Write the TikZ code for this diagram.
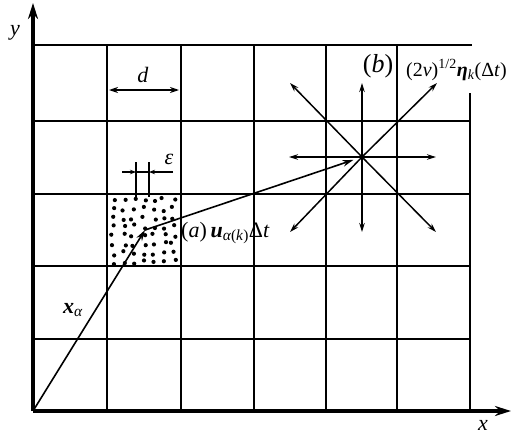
\documentclass[tikz,border=0pt]{standalone}
\usepackage{fontspec}
\setmainfont{Liberation Serif}
\usetikzlibrary{arrows.meta,calc}
\begin{document}
\begin{tikzpicture}[x=1pt,y=-1pt,
  gridline/.style={line width=2.6pt},
  axis/.style={line width=3.2pt,-{Stealth[length=16pt,width=10pt]}},
  vec/.style={line width=1.6pt,-{Stealth[length=11pt,width=6.5pt]}},
  thinarr/.style={line width=1.5pt,-{Stealth[length=9pt,width=5.5pt]}},
  tinyarr/.style={line width=1.2pt,-{Stealth[length=6pt,width=4.5pt]}},
  lab/.style={inner sep=0pt,font=\fontsize{22}{26}\selectfont},
  smalllab/.style={inner sep=0pt,font=\fontsize{20}{24}\selectfont},
  biglab/.style={inner sep=0pt,font=\fontsize{26}{30}\selectfont}]
\useasboundingbox (0,0) rectangle (511,434);
% grid
\foreach \gx in {107,181,254,326,397} \draw[gridline] (\gx,45) -- (\gx,411);
\draw[gridline] (470,93) -- (470,411);
\draw[gridline] (33,45) -- (472,45);
\foreach \gy in {121,194,266,339} \draw[gridline] (33,\gy) -- (470,\gy);
% axes
\coordinate (O) at (33,411);
\coordinate (ytip) at (33,3);
\coordinate (xtip) at (511,411);
\draw[axis] (O) -- (ytip);
\draw[axis] (O) -- (xtip);
% dots
\pgfmathsetseed{11}
\foreach \i in {0,...,6} \foreach \j in {0,...,7} {
  \pgfmathsetmacro\px{113+\i*10.1+rand*2.8}
  \pgfmathsetmacro\py{200+\j*8.9+rand*2.6}
  \fill (\px,\py) circle (2.1pt);}
% d arrow
\coordinate (d1) at (109,90);
\coordinate (d2) at (179,90);
\draw[line width=1.3pt,{Stealth[length=9pt,width=6pt]}-{Stealth[length=9pt,width=6pt]}] (d1) -- (d2);
% epsilon
\coordinate (e1t) at (136,162); \coordinate (e1b) at (136,197);
\coordinate (e2t) at (149,162); \coordinate (e2b) at (149,197);
\draw[line width=1.2pt] (e1t) -- (e1b);
\draw[line width=1.2pt] (e2t) -- (e2b);
\coordinate (el) at (122,172); \coordinate (elm) at (136,172);
\coordinate (er) at (173,172); \coordinate (erm) at (149,172);
\draw[tinyarr] (el) -- (elm);
\draw[line width=1.2pt] (elm) -- (erm);
\draw[tinyarr] (er) -- (erm);
% vectors
\coordinate (A) at (145,230);
\coordinate (B) at (362,157);
\draw[vec] (O) -- (A);
\draw[vec,shorten >=9pt] (A) -- (B);
% star
\foreach \n/\dx/\dy in {r/74/0,l/-73/0,u/0/-74,d/0/75,ur/75/-74,ul/-72/-74,dr/74/75,dl/-72/75} {
  \coordinate (s\n) at ($(B)+(\dx,\dy)$);
  \draw[thinarr] (B) -- (s\n);
}
% labels
\node[lab] (ylab) at (15,33) {\textit{y}};
\node[lab] (xlab) at (483,425) {\textit{x}};
\node[lab] (dlab) at (143,75) {\textit{d}};
\node[lab] (elab) at (169,159) {\textit{ε}};
\node[lab] (xa) at (73,310) {\textbf{\textit{x}}\textsubscript{\textit{α}}};
\node[lab,anchor=west] (alab) at (181,233) {(\textit{a})\,\textbf{\textit{u}}\textsubscript{\textit{α}(\textit{k})}Δ\textit{t}};
\node[biglab] (blab) at (378,66) {(\textit{b})};
\node[smalllab,anchor=west] (etalab) at (406,70) {(2\textit{ν})\textsuperscript{1/2}\textbf{\textit{η}}\textsubscript{\textit{k}}(Δ\textit{t})};
\end{tikzpicture}
\end{document}
